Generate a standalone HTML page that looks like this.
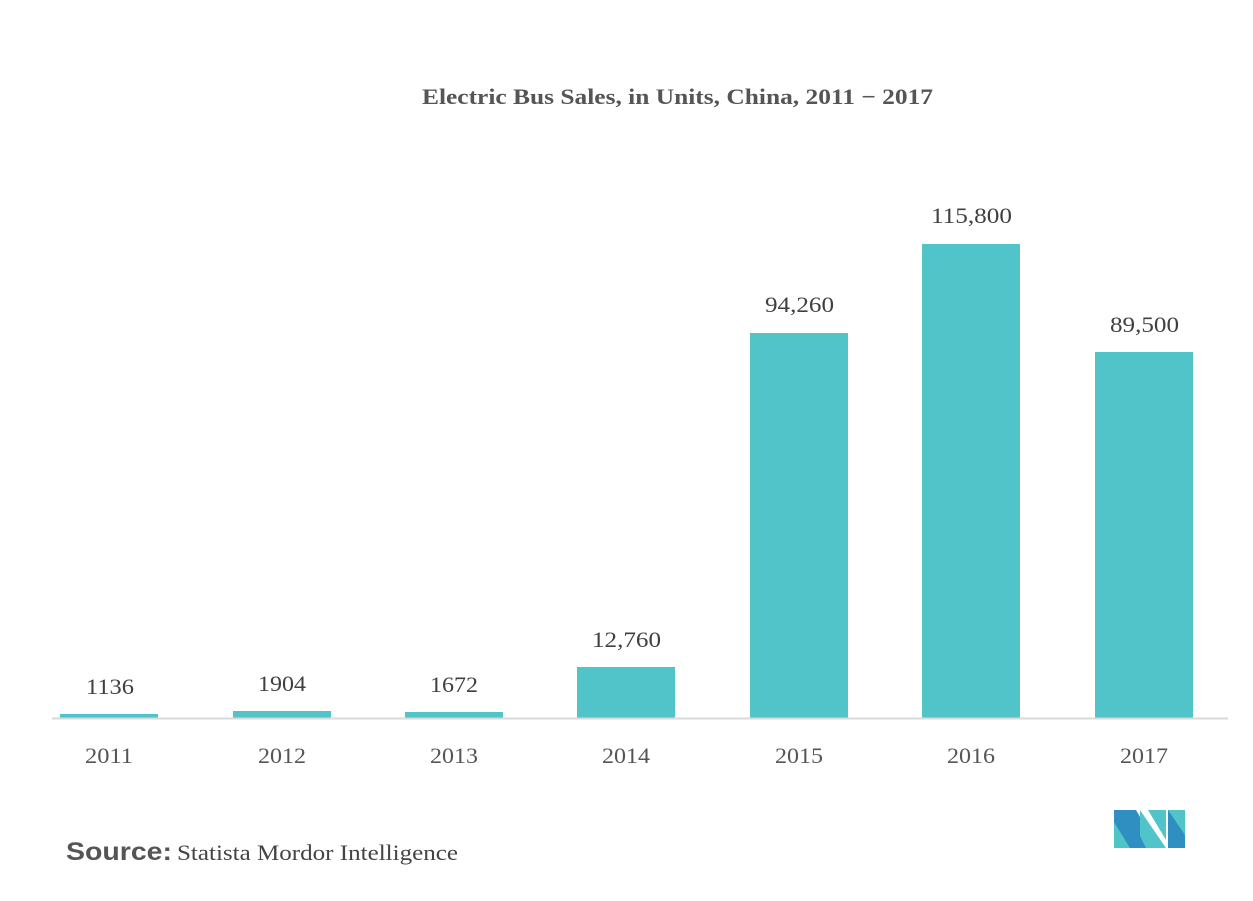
<!DOCTYPE html>
<html><head><style>html,body{margin:0;padding:0;background:#fff}</style></head>
<body>
<svg width="1253" height="896" viewBox="0 0 1253 896" xmlns="http://www.w3.org/2000/svg">
<rect width="1253" height="896" fill="#fff"/>
<text x="422" y="104" font-family="Liberation Serif, serif" font-weight="bold" font-size="22" fill="#555" textLength="511" lengthAdjust="spacingAndGlyphs">Electric Bus Sales, in Units, China, 2011 − 2017</text>
<g fill="#50c4c9">
<rect x="60" y="714" width="98" height="4"/>
<rect x="233" y="711" width="98" height="7"/>
<rect x="405" y="712" width="98" height="6"/>
<rect x="577" y="667" width="98" height="51"/>
<rect x="750" y="333" width="98" height="385"/>
<rect x="922" y="244" width="98" height="474"/>
<rect x="1095" y="352" width="98" height="366"/>
</g>
<line x1="52" y1="718.5" x2="1228" y2="718.5" stroke="#d9d9d9" stroke-width="2"/>
<g font-family="Liberation Serif, serif" font-size="22" fill="#404040" lengthAdjust="spacingAndGlyphs">
<text x="86" y="694" textLength="48" lengthAdjust="spacingAndGlyphs">1136</text>
<text x="258" y="691" textLength="48" lengthAdjust="spacingAndGlyphs">1904</text>
<text x="430" y="692" textLength="48" lengthAdjust="spacingAndGlyphs">1672</text>
<text x="592" y="647" textLength="69" lengthAdjust="spacingAndGlyphs">12,760</text>
<text x="765" y="312" textLength="69" lengthAdjust="spacingAndGlyphs">94,260</text>
<text x="931" y="223" textLength="81" lengthAdjust="spacingAndGlyphs">115,800</text>
<text x="1110" y="332" textLength="69" lengthAdjust="spacingAndGlyphs">89,500</text>
</g>
<g font-family="Liberation Serif, serif" font-size="22" fill="#555">
<text x="85" y="763" textLength="48" lengthAdjust="spacingAndGlyphs">2011</text>
<text x="258" y="763" textLength="48" lengthAdjust="spacingAndGlyphs">2012</text>
<text x="430" y="763" textLength="48" lengthAdjust="spacingAndGlyphs">2013</text>
<text x="602" y="763" textLength="48" lengthAdjust="spacingAndGlyphs">2014</text>
<text x="775" y="763" textLength="48" lengthAdjust="spacingAndGlyphs">2015</text>
<text x="947" y="763" textLength="48" lengthAdjust="spacingAndGlyphs">2016</text>
<text x="1120" y="763" textLength="48" lengthAdjust="spacingAndGlyphs">2017</text>
</g>
<text x="66" y="860" font-family="Liberation Sans, sans-serif" font-weight="bold" font-size="25" fill="#555" textLength="106" lengthAdjust="spacingAndGlyphs">Source:</text>
<text x="177" y="860" font-family="Liberation Serif, serif" font-size="22" fill="#444" textLength="281" lengthAdjust="spacingAndGlyphs">Statista Mordor Intelligence</text>
<g>
<polygon points="1114,810 1130,810 1130,848 1114,848" fill="#50c4c9"/>
<polygon points="1114,810 1136,810 1158,848 1130,848 1114,822" fill="#2e8fc0"/>
<polygon points="1148,810 1166,810 1166,840" fill="#50c4c9"/>
<polygon points="1140,810 1166,848 1146,848 1140,836" fill="#50c4c9"/>
<polygon points="1168,810 1185,810 1185,848 1168,848" fill="#2e8fc0"/>
<polygon points="1168,810 1185,810 1185,835" fill="#50c4c9"/>
</g>
</svg>
</body></html>
